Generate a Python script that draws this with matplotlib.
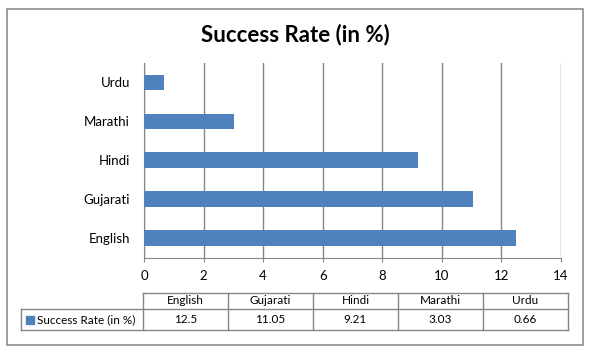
import matplotlib
matplotlib.use('Agg')
import matplotlib.pyplot as plt
from matplotlib.patches import Rectangle

categories = ['English', 'Gujarati', 'Hindi', 'Marathi', 'Urdu']
success_rate = [12.5, 11.05, 9.21, 3.03, 0.66]
value_labels = ['12.5', '11.05', '9.21', '3.03', '0.66']
series_name = 'Success Rate (in %)'
x_ticks = [0, 2, 4, 6, 8, 10, 12, 14]

plt.rcParams['font.family'] = ['Lato', 'DejaVu Sans']

bar_color = '#4F81BD'
line_color = '#868686'
W, H = 592, 356

fig = plt.figure(figsize=(W / 100, H / 100), dpi=100)

# background axes in pixel coordinates: frame + data table
bg = fig.add_axes([0, 0, 1, 1])
bg.set_xlim(0, W)
bg.set_ylim(H, 0)
bg.axis('off')
bg.add_patch(Rectangle((7, 9), 576, 336, fill=False, edgecolor='#8c8c8c', lw=1.2))
bg.text(295, 35, 'Success Rate (in %)', ha='center', va='center',
        fontsize=16, fontweight='bold')

# main bar chart
left, right, top, bottom = 144, 561, 63, 257.5
ax = fig.add_axes([left / W, (H - bottom) / H, (right - left) / W, (bottom - top) / H])
ypos = list(range(len(categories)))
ax.barh(ypos, success_rate, height=0.4, color=bar_color, zorder=3)
ax.set_yticks(ypos)
ax.set_yticklabels(categories, fontsize=9.5)
ax.set_ylim(-0.5, len(categories) - 0.5)
ax.set_xlim(0, 14)
ax.set_xticks(x_ticks)
ax.set_xticklabels([str(t) for t in x_ticks], fontsize=9.5)
ax.grid(axis='x', color=line_color, lw=1, zorder=0)
for s in ['top', 'right']:
    ax.spines[s].set_visible(False)
for s in ['left', 'bottom']:
    ax.spines[s].set_color(line_color)
ax.tick_params(axis='x', length=3, color=line_color, pad=6)
ax.tick_params(axis='y', length=0, pad=10)

# data table
col_x = [143 + 85 * i for i in range(len(categories) + 1)]
y0, y1, y2 = 293, 309, 330
tkw = dict(color=line_color, lw=1)
bg.plot([col_x[0], col_x[-1]], [y0, y0], **tkw)
bg.plot([21, col_x[-1]], [y1, y1], **tkw)
bg.plot([21, col_x[-1]], [y2, y2], **tkw)
bg.plot([21, 21], [y1, y2], **tkw)
for x in col_x:
    bg.plot([x, x], [y0, y2], **tkw)
for i, (cat, lab) in enumerate(zip(categories, value_labels)):
    cx = (col_x[i] + col_x[i + 1]) / 2
    bg.text(cx, (y0 + y1) / 2, cat, ha='center', va='center', fontsize=8.5)
    bg.text(cx, (y1 + y2) / 2, lab, ha='center', va='center', fontsize=8.5)
bg.add_patch(Rectangle((26, 316), 8, 8, color=bar_color))
bg.text(37, (y1 + y2) / 2, series_name, ha='left', va='center', fontsize=8.5)

fig.savefig('out.png', dpi=100)
